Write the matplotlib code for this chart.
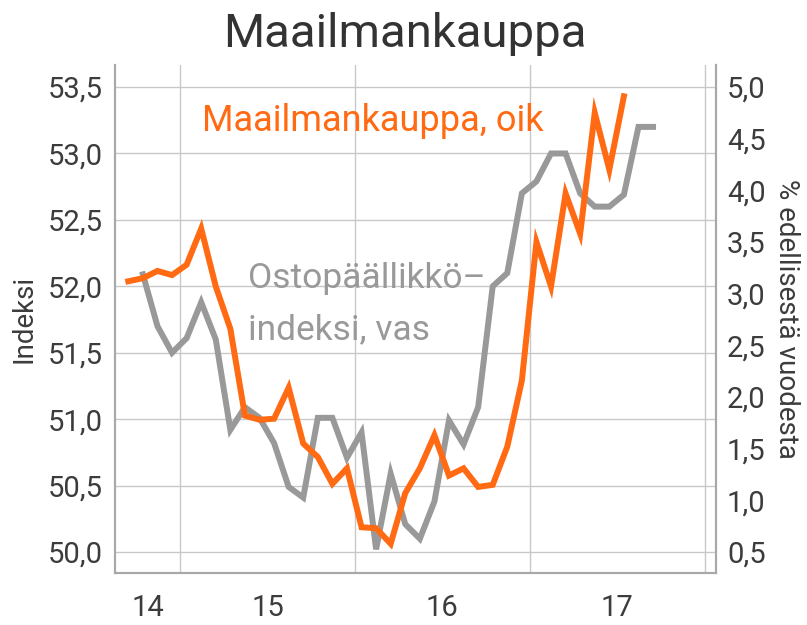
import numpy as np
import matplotlib.pyplot as plt
from matplotlib.ticker import FuncFormatter, FixedLocator

plt.rcParams['font.family'] = ['Roboto', 'DejaVu Sans']

# monthly data, month index 0 = Jan 2015
trade_start = -4   # Sep 2014
trade = [3.12, 3.15, 3.22, 3.18, 3.28, 3.63, 3.07, 2.66, 1.82, 1.78, 1.79, 2.09,
         1.55, 1.42, 1.16, 1.31, 0.74, 0.73, 0.58, 1.07, 1.31, 1.63, 1.24, 1.31,
         1.13, 1.15, 1.52, 2.16, 3.50, 3.07, 3.97, 3.58, 4.75, 4.20, 4.91]
pmi_start = -3     # Oct 2014
pmi = [52.09, 51.70, 51.50, 51.61, 51.88, 51.60, 50.92, 51.09, 51.01, 50.82, 50.49, 50.41,
       51.01, 51.01, 50.71, 50.90, 50.02, 50.59, 50.21, 50.10, 50.38, 50.99, 50.81, 51.09,
       52.00, 52.10, 52.70, 52.79, 53.00, 53.00, 52.70, 52.60, 52.60, 52.69, 53.20, 53.20]

year_labels = ['14', '15', '16', '17']
left_ticks = [50.0, 50.5, 51.0, 51.5, 52.0, 52.5, 53.0, 53.5]
right_ticks = [0.5, 1.0, 1.5, 2.0, 2.5, 3.0, 3.5, 4.0, 4.5, 5.0]

orange = '#ff6a13'
grey = '#999999'
txt = '#3c3c3c'

def months_to_x(start, n):
    m = np.arange(start, start + n)
    return 2015 + (m + 0.45) / 12

fig = plt.figure(figsize=(8.07, 6.25), dpi=100)
ax = fig.add_axes([0.1425, 0.0832, 0.887 - 0.1425, 0.896 - 0.0832])
ax2 = ax.twinx()

ax.plot(months_to_x(pmi_start, len(pmi)), pmi, color=grey, lw=4.3, solid_joinstyle='miter')
ax2.plot(months_to_x(trade_start, len(trade)), trade, color=orange, lw=4.3, solid_joinstyle='miter')

ax.set_xlim(2014.628, 2018.063)
ax.set_ylim(49.842, 53.666)
ax2.set_ylim(0.297, 5.213)

comma = FuncFormatter(lambda v, p: f'{v:.1f}'.replace('.', ','))
ax.yaxis.set_major_locator(FixedLocator(left_ticks))
ax.yaxis.set_major_formatter(comma)
ax2.yaxis.set_major_locator(FixedLocator(right_ticks))
ax2.yaxis.set_major_formatter(comma)

ax.xaxis.set_major_locator(FixedLocator([2015, 2016, 2017, 2018]))
ax.xaxis.set_minor_locator(FixedLocator([2014.817, 2015.5, 2016.5, 2017.5]))
ax.set_xticklabels([], minor=False)
ax.set_xticklabels(year_labels, minor=True)

ax.grid(True, which='major', color='#c8c8c8', lw=1)
ax.set_axisbelow(True)

for a in (ax, ax2):
    a.tick_params(which='both', length=0, labelsize=21, labelcolor=txt)
    a.spines['top'].set_visible(False)
    for s in ('left', 'right', 'bottom'):
        a.spines[s].set_color('#a8a8a8')
        a.spines[s].set_linewidth(1.5)
ax.tick_params(axis='y', pad=9)
ax2.tick_params(axis='y', pad=8)
ax.tick_params(axis='x', which='minor', pad=15)

ax.set_ylabel('Indeksi', fontsize=20, color=txt, labelpad=7)
ax2.set_ylabel('% edellisestä vuodesta', fontsize=20, color=txt, rotation=-90, labelpad=25)

ax.text(0.145, 0.925, 'Maailmankauppa, oik', transform=ax.transAxes, fontsize=26,
        color=orange, va='top')
ax.text(0.222, 0.612, 'Ostopäällikkö–\nindeksi, vas', transform=ax.transAxes, fontsize=25.5,
        color=grey, linespacing=1.7, va='top')

fig.text(0.502, 0.945, 'Maailmankauppa', ha='center', va='center', fontsize=34, color='#333333')

fig.savefig('out.png', dpi=100)
